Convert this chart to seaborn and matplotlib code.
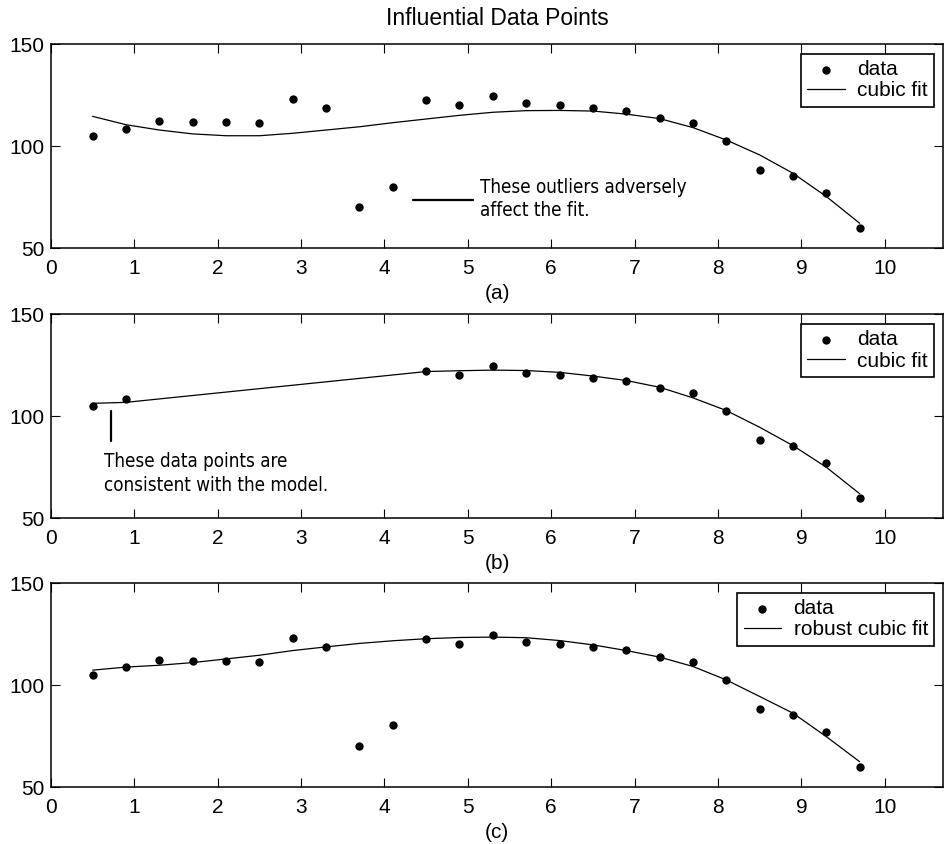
import numpy as np
import pandas as pd
import seaborn as sns
import matplotlib.pyplot as plt
from matplotlib import font_manager

# data
x_all = [0.5, 0.9, 1.3, 1.7, 2.1, 2.5, 2.9, 3.3, 3.7, 4.1, 4.5, 4.9,
         5.3, 5.7, 6.1, 6.5, 6.9, 7.3, 7.7, 8.1, 8.5, 8.9, 9.3, 9.7]
y_all = [105.1, 108.6, 112.5, 111.8, 112.0, 111.5, 122.9, 118.7, 70.2, 80.2, 122.4, 120.3,
         124.6, 121.3, 120.0, 118.5, 117.4, 113.6, 111.5, 102.5, 88.3, 85.2, 76.9, 60.0]

cubic_fit = [114.6, 110.5, 107.9, 106.0, 105.1, 105.1, 106.3, 107.9, 109.5, 111.5, 113.3, 115.1,
             116.6, 117.4, 117.5, 117.2, 115.7, 113.5, 109.1, 103.0, 95.7, 86.7, 75.3, 62.2]

# panel (b): points 1.3 .. 4.1 left out
x_b = [0.5, 0.9, 4.5, 4.9, 5.3, 5.7, 6.1, 6.5, 6.9, 7.3, 7.7, 8.1, 8.5, 8.9, 9.3, 9.7]
y_b = [105.1, 108.6, 122.4, 120.3, 124.6, 121.3, 120.0, 118.5, 117.4, 113.6, 111.5, 102.5,
       88.3, 85.2, 76.9, 60.0]
cubic_fit_b = [106.3, 106.8, 121.9, 122.3, 122.6, 122.4, 121.5, 119.7, 117.5, 114.2, 109.0,
               102.8, 94.6, 85.6, 75.0, 62.0]

robust_fit = [107.3, 108.8, 109.7, 111.0, 112.8, 114.6, 116.9, 118.7, 120.4, 121.7, 122.7, 123.3,
              123.5, 123.2, 121.8, 119.7, 116.9, 113.7, 109.1, 102.5, 94.4, 86.2, 74.7, 62.4]

panel_labels = ['(a)', '(b)', '(c)']
fit_labels = ['cubic fit', 'cubic fit', 'robust cubic fit']

sns.set_style('ticks')
plt.rcParams['font.family'] = ['Liberation Sans', 'DejaVu Sans']
plt.rcParams['xtick.direction'] = 'in'
plt.rcParams['ytick.direction'] = 'in'
for key in ['text.color', 'axes.labelcolor', 'xtick.color', 'ytick.color',
            'xtick.labelcolor', 'ytick.labelcolor']:
    plt.rcParams[key] = 'black'

# narrow font for the notes, if a condensed face is around
fonts = font_manager.fontManager.ttflist
has_condensed = any(f.name == 'DejaVu Sans' and 'condensed' in str(f.stretch) for f in fonts)
if has_condensed:
    note_kw = dict(family='DejaVu Sans', fontstretch='condensed', fontsize=13.5)
else:
    note_kw = dict(family=['Liberation Sans', 'DejaVu Sans'], fontsize=12.5)

fig = plt.figure(figsize=(9.44, 8.44), dpi=100)
bottoms = [0.706, 0.386, 0.0675]
axes = [fig.add_axes([0.054, b, 0.945, 0.2417]) for b in bottoms]

sets = [
    (x_all, y_all, x_all, cubic_fit),
    (x_b, y_b, x_b, cubic_fit_b),
    (x_all, y_all, x_all, robust_fit),
]

for ax, (xs, ys, xf, yf), plabel, flabel in zip(axes, sets, panel_labels, fit_labels):
    sns.scatterplot(x=xs, y=ys, ax=ax, color='black', s=36, edgecolor='black',
                    linewidth=0, label='data', zorder=3)
    sns.lineplot(x=xf, y=yf, ax=ax, color='black', linewidth=0.9, label=flabel)
    ax.set_xlim(0, 10.7)
    ax.set_ylim(50, 150)
    ax.set_xticks(range(0, 11))
    ax.set_yticks([50, 100, 150])
    ax.tick_params(axis='both', which='both', top=True, right=True, length=6.5,
                   width=0.8, labelsize=15, color='black', labelcolor='black')
    ax.tick_params(axis='x', pad=8)
    ax.tick_params(axis='y', pad=5)
    for sp in ax.spines.values():
        sp.set_visible(True)
        sp.set_linewidth(1.1)
        sp.set_color('black')
    ax.set_xlabel(plabel, fontsize=15, labelpad=4, color='black')
    leg = ax.legend(loc='upper right', bbox_to_anchor=(0.99, 0.951), borderaxespad=0,
                    fontsize=15, frameon=True, fancybox=False, framealpha=1,
                    edgecolor='black', handlelength=1.8, handletextpad=0.6,
                    borderpad=0.3, labelspacing=0.1)
    leg.get_frame().set_linewidth(1.2)
    for t in leg.get_texts():
        t.set_color('black')

axes[0].set_title('Influential Data Points', fontsize=16.5, pad=13.5, color='black')

# annotation in panel (a)
axes[0].plot([4.34, 5.06], [73.7, 73.7], color='black', linewidth=1.6)
axes[0].text(5.15, 74, 'These outliers adversely\naffect the fit.', va='center', ha='left',
             linespacing=1.3, color='black', **note_kw)

# annotation in panel (b)
axes[1].plot([0.72, 0.72], [88, 102.4], color='black', linewidth=1.6)
axes[1].text(0.63, 72, 'These data points are\nconsistent with the model.', va='center',
             ha='left', linespacing=1.3, color='black', **note_kw)

fig.savefig('out.png', dpi=100)
